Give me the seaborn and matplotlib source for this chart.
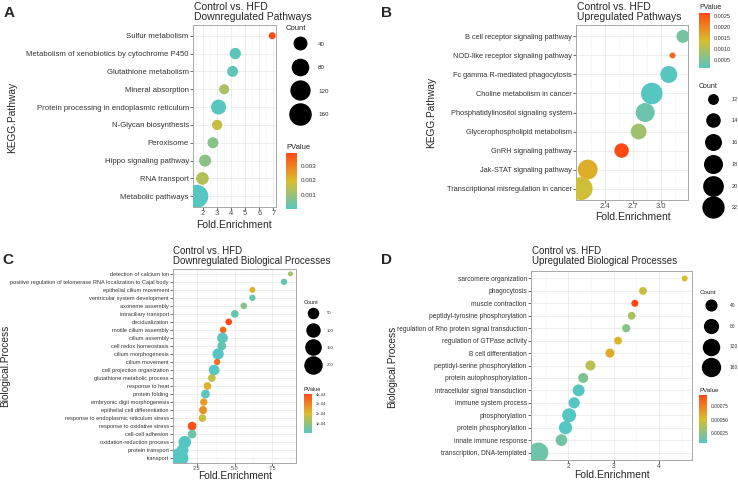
import numpy as np
import pandas as pd
import seaborn as sns
import matplotlib.pyplot as plt
from matplotlib.colors import LinearSegmentedColormap, Normalize
from matplotlib.cm import ScalarMappable
from matplotlib.lines import Line2D
from matplotlib.ticker import MultipleLocator

# --- A: KEGG downregulated
a_terms = ['Sulfur metabolism', 'Metabolism of xenobiotics by cytochrome P450',
           'Glutathione metabolism', 'Mineral absorption',
           'Protein processing in endoplasmic reticulum', 'N-Glycan biosynthesis',
           'Peroxisome', 'Hippo signaling pathway', 'RNA transport', 'Metabolic pathways']
a_fold = [6.92, 4.29, 4.10, 3.50, 3.10, 3.00, 2.70, 2.14, 1.95, 1.55]
a_count = [10, 22, 20, 16, 50, 17, 20, 26, 30, 170]
a_pval = [0.00387, 0.00012, 0.00018, 0.00125, 0.00006, 0.00165, 0.00075, 0.0008, 0.0014, 0.00003]

# --- B: KEGG upregulated
b_terms = ['B cell receptor signaling pathway', 'NOD-like receptor signaling pathway',
           'Fc gamma R-mediated phagocytosis', 'Choline metabolism in cancer',
           'Phosphatidylinositol signaling system', 'Glycerophospholipid metabolism',
           'GnRH signaling pathway', 'Jak-STAT signaling pathway',
           'Transcriptional misregulation in cancer']
b_fold = [3.23, 3.12, 3.08, 2.90, 2.83, 2.76, 2.58, 2.22, 2.15]
b_count = [13, 11, 16, 21, 18, 15, 14, 19, 23]
b_pval = [0.00045, 0.00225, 0.00018, 0.00016, 0.00035, 0.00085, 0.00262, 0.00155, 0.0013]

# --- C: GO BP downregulated
c_terms = ['detection of calcium ion',
           'positive regulation of telomerase RNA localization to Cajal body',
           'epithelial cilium movement', 'ventricular system development',
           'axoneme assembly', 'intraciliary transport', 'decidualization',
           'motile cilium assembly', 'cilium assembly', 'cell redox homeostasis',
           'cilium morphogenesis', 'cilium movement', 'cell projection organization',
           'glutathione metabolic process', 'response to heat', 'protein folding',
           'embryonic digit morphogenesis', 'epithelial cell differentiation',
           'response to endoplasmic reticulum stress', 'response to oxidative stress',
           'cell-cell adhesion', 'oxidation-reduction process', 'protein transport',
           'transport']
c_fold = [8.68, 8.26, 6.18, 6.18, 5.61, 5.02, 4.62, 4.25, 4.21, 4.16, 3.92, 3.86,
          3.66, 3.51, 3.22, 3.09, 2.98, 2.93, 2.89, 2.21, 2.21, 1.73, 1.58, 1.32]
c_count = [5, 7, 6, 7, 8, 13, 8, 8, 40, 20, 48, 7, 40, 13, 13, 20, 11, 15, 13, 20,
           20, 65, 55, 230]
c_pval = [1.2e-4, 2e-5, 2.2e-4, 3e-5, 8e-5, 3e-5, 4.02e-4, 3.5e-4, 1e-5, 2e-5, 1e-6,
          3.4e-4, 1e-6, 1.6e-4, 2.2e-4, 1e-5, 2.6e-4, 2.8e-4, 1.8e-4, 3.9e-4, 4e-5,
          1e-6, 2e-6, 1e-6]

# --- D: GO BP upregulated
d_terms = ['sarcomere organization', 'phagocytosis', 'muscle contraction',
           'peptidyl-tyrosine phosphorylation',
           'regulation of Rho protein signal transduction',
           'regulation of GTPase activity', 'B cell differentiation',
           'peptidyl-serine phosphorylation', 'protein autophosphorylation',
           'intracellular signal transduction', 'immune system process',
           'phosphorylation', 'protein phosphorylation', 'innate immune response',
           'transcription, DNA-templated']
d_fold = [4.57, 3.65, 3.47, 3.40, 3.28, 3.10, 2.92, 2.49, 2.33, 2.23, 2.13, 2.02,
          1.94, 1.85, 1.34]
d_count = [8, 11, 9, 11, 12, 11, 16, 22, 22, 38, 32, 63, 53, 36, 175]
d_pval = [5e-4, 4.5e-4, 9.7e-4, 3.5e-4, 2.2e-4, 5.5e-4, 5.8e-4, 4e-4, 2e-4, 6e-5,
          6e-5, 5e-5, 5e-5, 1.5e-4, 1.3e-4]

# legend breaks / tick labels
a_xticks = [2, 3, 4, 5, 6, 7]
b_xticks = [2.4, 2.7, 3.0]
c_xticks = [2.5, 5.0, 7.5]
d_xticks = [2, 3, 4]
a_count_breaks = [40, 80, 120, 160]
b_count_breaks = [12, 14, 16, 18, 20, 22]
c_count_breaks = [50, 100, 150, 200]
d_count_breaks = [40, 80, 120, 160]
a_p_ticks = [0.001, 0.002, 0.003]
a_p_labels = ['0.001', '0.002', '0.003']
b_p_ticks = [0.0005, 0.0010, 0.0015, 0.0020, 0.0025]
b_p_labels = ['0.0005', '0.0010', '0.0015', '0.0020', '0.0025']
c_p_ticks = [1e-4, 2e-4, 3e-4, 4e-4]
c_p_labels = ['1e-04', '2e-04', '3e-04', '4e-04']
d_p_ticks = [0.00025, 0.0005, 0.00075]
d_p_labels = ['0.00025', '0.00050', '0.00075']

sns.set_style('white')
plt.rcParams['font.family'] = ['Liberation Sans', 'DejaVu Sans']

W, H = 738, 480
fig = plt.figure(figsize=(W / 100, H / 100), dpi=100)
cmap = LinearSegmentedColormap.from_list('pv', ['#56c6c2', '#d9bd2e', '#ff4a16'])


def px(l, t, r, b):
    return [l / W, 1 - b / H, (r - l) / W, (b - t) / H]


def ftext(x, y, s, **kw):
    fig.text(x / W, 1 - y / H, s, **kw)


def size_fn(cmin, cmax, dmin, dmax):
    # ggplot style area scale: diameter grows with sqrt of rescaled count
    def f(c):
        t = np.clip((c - cmin) / (cmax - cmin), 0, 1)
        d = dmin + np.sqrt(t) * (dmax - dmin)
        return (d * 0.72) ** 2
    return f


def panel(terms, fold, count, pval, box, xticks, minor, drange, ytick_fs, xtick_fs):
    df = pd.DataFrame({'Term': terms, 'Fold.Enrichment': fold,
                       'Count': count, 'PValue': pval})
    ax = fig.add_axes(px(*box))
    f = size_fn(min(count), max(count), *drange)
    norm = Normalize(min(pval), max(pval))
    sns.scatterplot(data=df, x='Fold.Enrichment', y='Term', hue='PValue',
                    size='Count', palette=cmap, hue_norm=norm,
                    sizes={c: f(c) for c in df['Count'].unique()},
                    linewidth=0, legend=False, ax=ax, zorder=3)
    n = len(terms)
    ax.set_ylim(n - 1 + 0.6, -0.6)
    lo, hi = min(fold), max(fold)
    pad = (hi - lo) * 0.05
    ax.set_xlim(lo - pad, hi + pad)
    ax.set_xticks(xticks)
    ax.xaxis.set_minor_locator(MultipleLocator(minor))
    ax.set_xlabel('')
    ax.set_ylabel('')
    ax.grid(True, which='major', color='#ebebeb', lw=0.6, zorder=0)
    ax.grid(True, which='minor', axis='x', color='#f4f4f4', lw=0.4, zorder=0)
    ax.set_axisbelow(True)
    for s in ax.spines.values():
        s.set_visible(True)
        s.set_color('#a8a8a8')
        s.set_linewidth(0.7)
    ax.tick_params(axis='y', labelsize=ytick_fs, length=2, width=0.5,
                   color='#333333', labelcolor='#333333', pad=1, left=True)
    ax.tick_params(axis='x', labelsize=xtick_fs, length=2, width=0.5,
                   color='#333333', labelcolor='#4d4d4d', pad=0.5, bottom=True)
    ax.tick_params(which='minor', length=0)
    return ax, f, norm


def colorbar(norm, box, ticks, labels, fs, title_fs):
    cax = fig.add_axes(px(*box))
    cb = fig.colorbar(ScalarMappable(norm=norm, cmap=cmap), cax=cax)
    cb.outline.set_visible(False)
    cb.set_ticks(ticks, labels=labels)
    cax.minorticks_off()
    cax.yaxis.set_ticks_position('both')
    cax.tick_params(axis='y', direction='in', length=2, width=0.6, color='white',
                    labelsize=fs, labelcolor='#333333', pad=3,
                    left=True, right=True, labelleft=False, labelright=True)
    cax.text(0, 1.04, 'PValue', transform=cax.transAxes, ha='left', va='bottom',
             fontsize=title_fs, color='#222222')


def count_legend(breaks, f, x, ytitle, yfirst, fs, title_fs, pitch, hwidth, tpad):
    ftext(x, ytitle, 'Count', fontsize=title_fs, ha='left', va='center',
          color='#222222')
    handles = [Line2D([], [], ls='', marker='o', ms=np.sqrt(f(b)),
                      mfc='black', mec='black', mew=0) for b in breaks]
    th = 0.87
    ls = pitch * 0.72 / fs - th
    top = yfirst - th * fs / 0.72 / 2
    fig.legend(handles, [str(b) for b in breaks],
               loc='upper left', bbox_to_anchor=(x / W, 1 - top / H),
               frameon=False, fontsize=fs,
               handlelength=hwidth * 0.72 / fs, handleheight=0.7,
               labelspacing=ls, handletextpad=tpad * 0.72 / fs, borderpad=0,
               borderaxespad=0, labelcolor='#333333')


# ---------- panel A
ax, f, norm = panel(a_terms, a_fold, a_count, a_pval, (193, 25, 276, 207),
                    a_xticks, 0.5, (7, 23), 5.6, 5.5)
colorbar(norm, (286, 153, 297, 209), a_p_ticks, a_p_labels, 4.5, 5.5)
count_legend(a_count_breaks, f, 286, 28, 44, 4.5, 5.5, 23.5, 28, 4)
ftext(194, 2, 'Control vs. HFD\nDownregulated Pathways', fontsize=7.5, va='top',
      ha='left', linespacing=1.0)
ftext(12, 117, 'KEGG.Pathway', fontsize=7.3, rotation=90, ha='center', va='center')
ftext(234, 225, 'Fold.Enrichment', fontsize=7.5, ha='center', va='center')
ftext(4, 6, 'A', fontsize=11, fontweight='bold', va='top')

# ---------- panel B
ax, f, norm = panel(b_terms, b_fold, b_count, b_pval, (576, 25, 688, 200),
                    b_xticks, 0.15, (6, 23), 5.3, 5.5)
colorbar(norm, (699, 13, 710, 68), b_p_ticks, b_p_labels, 4, 5)
count_legend(b_count_breaks, f, 699, 86, 99, 4, 5, 21.6, 27, 6)
ftext(577, 2, 'Control vs. HFD\nUpregulated Pathways', fontsize=7.5, va='top',
      ha='left', linespacing=1.0)
ftext(431, 112, 'KEGG.Pathway', fontsize=7.3, rotation=90, ha='center', va='center')
ftext(633, 217, 'Fold.Enrichment', fontsize=7.5, ha='center', va='center')
ftext(381, 6, 'B', fontsize=11, fontweight='bold', va='top')

# ---------- panel C
ax, f, norm = panel(c_terms, c_fold, c_count, c_pval, (173, 269, 296, 463),
                    c_xticks, 1.25, (5, 19.5), 4.1, 4.0)
colorbar(norm, (304, 394, 312, 433), c_p_ticks, c_p_labels, 3, 4)
count_legend(c_count_breaks, f, 304, 302, 313, 3, 4, 17, 18, 5)
ftext(173, 246, 'Control vs. HFD\nDownregulated Biological Processes', fontsize=7,
      va='top', ha='left', linespacing=1.0)
ftext(5, 366, 'Biological.Process', fontsize=7.3, rotation=90, ha='center', va='center')
ftext(235, 476, 'Fold.Enrichment', fontsize=7.3, ha='center', va='center')
ftext(2, 253, 'C', fontsize=11, fontweight='bold', va='top')

# ---------- panel D
ax, f, norm = panel(d_terms, d_fold, d_count, d_pval, (531, 271, 692, 460),
                    d_xticks, 0.5, (6, 20), 4.8, 4.8)
colorbar(norm, (699, 395, 707, 443), d_p_ticks, d_p_labels, 3.5, 4.5)
count_legend(d_count_breaks, f, 700, 292, 305, 3.5, 4.5, 20, 22, 8)
ftext(532, 246, 'Control vs. HFD\nUpregulated Biological Processes', fontsize=7,
      va='top', ha='left', linespacing=1.0)
ftext(392, 367, 'Biological.Process', fontsize=7.3, rotation=90, ha='center', va='center')
ftext(612, 475, 'Fold.Enrichment', fontsize=7.5, ha='center', va='center')
ftext(381, 253, 'D', fontsize=11, fontweight='bold', va='top')

fig.savefig('out.png', dpi=100)
